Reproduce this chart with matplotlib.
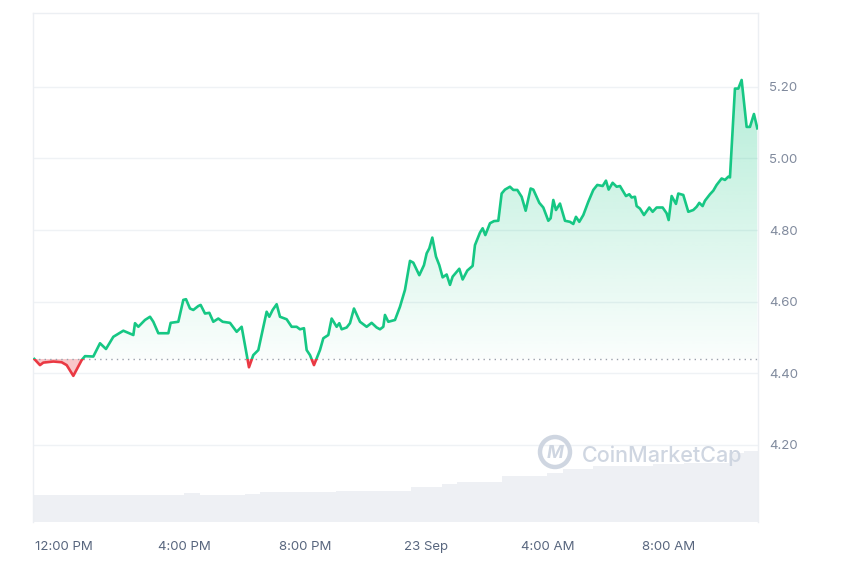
import numpy as np
import matplotlib
matplotlib.use("Agg")
import matplotlib.pyplot as plt
from matplotlib.patches import Rectangle, Circle
from matplotlib.path import Path

plt.rcParams['font.family'] = ['Inter', 'DejaVu Sans']

# ---- data: hours relative to 12:00 PM (22 Sep), price in USD ----
hours = [-0.964, -0.777, -0.667, -0.336, -0.061, 0.105, 0.325, 0.601, 0.711, 0.986,
         1.207, 1.405, 1.647, 1.978, 2.309, 2.364, 2.474, 2.694, 2.860, 2.970,
         3.135, 3.466, 3.543, 3.796, 3.961, 4.050, 4.182, 4.292, 4.457, 4.534,
         4.678, 4.821, 4.953, 5.118, 5.262, 5.504, 5.725, 5.890, 6.132, 6.275,
         6.441, 6.716, 6.804, 6.915, 7.047, 7.157, 7.377, 7.543, 7.708, 7.818,
         7.950, 8.039, 8.149, 8.281, 8.479, 8.590, 8.755, 8.865, 9.030, 9.118,
         9.196, 9.361, 9.471, 9.603, 9.802, 10.022, 10.187, 10.353, 10.463, 10.573,
         10.628, 10.738, 10.959, 11.124, 11.289, 11.455, 11.565, 11.763, 11.917, 12.006,
         12.094, 12.193, 12.314, 12.424, 12.534, 12.667, 12.777, 12.865, 13.085, 13.196,
         13.350, 13.526, 13.603, 13.769, 13.857, 13.945, 14.099, 14.231, 14.375, 14.485,
         14.595, 14.760, 14.871, 15.003, 15.146, 15.279, 15.444, 15.532, 15.730, 15.862,
         16.028, 16.105, 16.193, 16.281, 16.413, 16.579, 16.744, 16.854, 16.942, 17.052,
         17.185, 17.350, 17.515, 17.647, 17.824, 17.934, 18.022, 18.154, 18.287, 18.397,
         18.595, 18.705, 18.782, 18.893, 18.948, 19.058, 19.190, 19.366, 19.477, 19.609,
         19.807, 19.939, 20.006, 20.105, 20.248, 20.325, 20.490, 20.656, 20.821, 20.931,
         21.019, 21.129, 21.207, 21.372, 21.482, 21.592, 21.758, 21.868, 21.978, 22.033,
         22.198, 22.309, 22.419, 22.584, 22.694, 22.826, 22.937]
prices = [4.440, 4.423, 4.430, 4.433, 4.431, 4.423, 4.393, 4.437, 4.448, 4.447,
          4.484, 4.468, 4.502, 4.519, 4.507, 4.540, 4.530, 4.549, 4.558, 4.544,
          4.512, 4.512, 4.541, 4.544, 4.605, 4.607, 4.581, 4.577, 4.588, 4.591,
          4.567, 4.569, 4.544, 4.553, 4.544, 4.541, 4.516, 4.530, 4.417, 4.451,
          4.465, 4.572, 4.558, 4.577, 4.593, 4.558, 4.551, 4.530, 4.530, 4.523,
          4.526, 4.465, 4.451, 4.423, 4.465, 4.498, 4.507, 4.553, 4.530, 4.540,
          4.523, 4.528, 4.540, 4.581, 4.544, 4.530, 4.541, 4.528, 4.523, 4.530,
          4.563, 4.544, 4.549, 4.586, 4.633, 4.714, 4.709, 4.674, 4.702, 4.735,
          4.749, 4.779, 4.726, 4.702, 4.668, 4.676, 4.647, 4.670, 4.692, 4.662,
          4.687, 4.700, 4.758, 4.793, 4.805, 4.786, 4.819, 4.825, 4.826, 4.902,
          4.913, 4.921, 4.912, 4.912, 4.893, 4.854, 4.916, 4.913, 4.876, 4.863,
          4.826, 4.833, 4.884, 4.856, 4.874, 4.826, 4.823, 4.817, 4.837, 4.823,
          4.842, 4.879, 4.912, 4.926, 4.923, 4.938, 4.913, 4.932, 4.921, 4.923,
          4.895, 4.900, 4.891, 4.893, 4.867, 4.860, 4.842, 4.863, 4.851, 4.863,
          4.863, 4.847, 4.828, 4.895, 4.873, 4.902, 4.898, 4.851, 4.856, 4.865,
          4.876, 4.867, 4.882, 4.900, 4.910, 4.926, 4.944, 4.940, 4.949, 4.947,
          5.195, 5.195, 5.219, 5.088, 5.088, 5.124, 5.084]
open_price = 4.44

# volume (half-hour bars, arbitrary M units)
vol_hours = [-0.75 + 0.5 * i for i in range(48)]
volumes = [27, 27, 27, 27, 27, 27, 27, 27, 27, 27,
           28.7, 27, 27, 27, 28, 29.7, 29.7, 29.7, 29.7, 29.7,
           31.3, 31.3, 31.3, 31.3, 31.3, 35.3, 35.3, 37.7, 40.3, 40.3,
           40.3, 46, 46, 46, 49.3, 52.7, 52.7, 56, 56, 56,
           56, 58, 58, 59.3, 59.3, 59.3, 68.7, 71]

tick_hours = [0, 4, 8, 12, 16, 20]
tick_labels = ["12:00 PM", "4:00 PM", "8:00 PM", "23 Sep", "4:00 AM", "8:00 AM"]
price_ticks = [4.20, 4.40, 4.60, 4.80, 5.00, 5.20]

GREEN = "#16c784"
RED = "#ea3943"
GRID = "#eff2f5"
LABEL = "#58667e"

h = np.array(hours)
p = np.array(prices)
XMIN, XMAX = -1.008, 22.96
YMIN, YMAX = 3.985, 5.406

fig = plt.figure(figsize=(8.5, 5.67), dpi=100)
pos = [33 / 850, 1 - 522 / 567, (758 - 33) / 850, 509 / 567]

# volume axis (behind)
axv = fig.add_axes(pos, zorder=0)
axv.bar(vol_hours, volumes, width=0.5, color="#eef0f4", linewidth=0)
axv.set_xlim(XMIN, XMAX)
axv.set_ylim(0, 509)
axv.axis("off")

ax = fig.add_axes(pos, zorder=1)
ax.patch.set_alpha(0)
ax.set_xlim(XMIN, XMAX)
ax.set_ylim(YMIN, YMAX)

# grid
for t in price_ticks:
    ax.axhline(t, color=GRID, lw=1.0, zorder=0)

# watermark
ax.add_patch(Circle((555, 567 - 452), 15, transform=None, fill=False,
                    ec="#cfd6e1", lw=3.2, zorder=1))
fig.text(555 / 850, 1 - 453 / 567, "M", ha="center", va="center", fontsize=13,
         color="#cfd6e1", fontweight="bold", style="italic", zorder=2)
fig.text(582 / 850, 1 - 456 / 567, "CoinMarketCap", ha="left", va="center",
         fontsize=15.5, color="#cfd6e1", fontweight="medium", zorder=2)

# green gradient fill above open price
fb = ax.fill_between(h, p, open_price, where=p >= open_price, interpolate=True,
                     color="none", lw=0)
paths = fb.get_paths()
clip = Path.make_compound_path(*paths)
grad = np.zeros((256, 1, 4))
grad[:, 0, 0] = 22 / 255
grad[:, 0, 1] = 199 / 255
grad[:, 0, 2] = 132 / 255
grad[:, 0, 3] = np.linspace(0.02, 0.32, 256)
img = ax.imshow(grad, extent=[XMIN, XMAX, open_price, 5.22], origin="lower",
                aspect="auto", zorder=2, interpolation="bilinear")
img.set_clip_path(clip, ax.transData)

# red fill below open price
ax.fill_between(h, p, open_price, where=p < open_price, interpolate=True,
                color=RED, alpha=0.28, lw=0, zorder=2)

# baseline dotted
ax.axhline(open_price, color="#9aa1ab", lw=1.0, ls=(0, (1, 3)), zorder=3)

# line (green above, red below)
lg, = ax.plot(h, p, color=GREEN, lw=1.9, zorder=4, solid_joinstyle="round")
rg = Rectangle((XMIN, open_price), XMAX - XMIN, 10, transform=ax.transData)
lg.set_clip_path(rg)
lr, = ax.plot(h, p, color=RED, lw=1.9, zorder=4, solid_joinstyle="round")
rr = Rectangle((XMIN, open_price - 10), XMAX - XMIN, 10, transform=ax.transData)
lr.set_clip_path(rr)

ax.set_xlim(XMIN, XMAX)
ax.set_ylim(YMIN, YMAX)

ax.set_xticks(tick_hours)
ax.set_xticklabels(tick_labels)
ax.set_yticks(price_ticks)
ax.set_yticklabels([f"{t:.2f}" for t in price_ticks])
ax.yaxis.tick_right()
ax.tick_params(axis="x", length=0, pad=14, labelsize=9.5, labelcolor=LABEL)
ax.tick_params(axis="y", length=0, pad=8, labelsize=9.5, labelcolor="#808a9d")

for s in ["top", "left", "right"]:
    ax.spines[s].set_color("#eceff3")
    ax.spines[s].set_linewidth(1.0)
ax.spines["bottom"].set_visible(False)

fig.savefig("out.png", dpi=100)
